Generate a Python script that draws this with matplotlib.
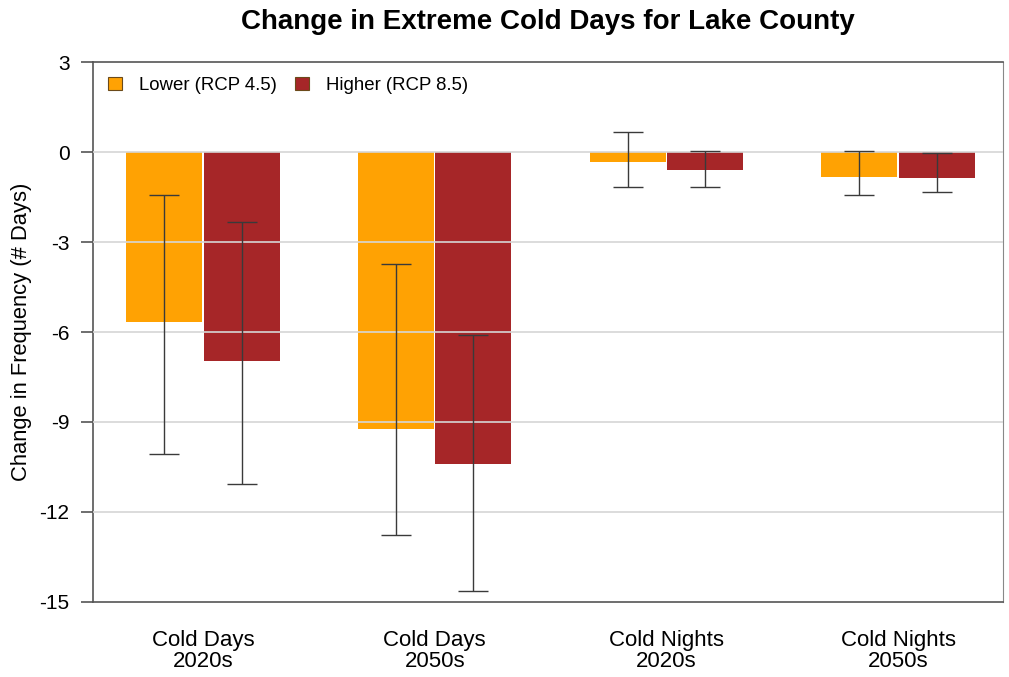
import matplotlib.pyplot as plt
import numpy as np

plt.rcParams['font.family'] = ['Liberation Sans', 'DejaVu Sans']

categories = ['Cold Days\n2020s', 'Cold Days\n2050s', 'Cold Nights\n2020s', 'Cold Nights\n2050s']
series_names = ['Lower (RCP 4.5)', 'Higher (RCP 8.5)']
lower_vals = [-5.67, -9.23, -0.33, -0.83]
lower_hi = [-1.43, -3.73, 0.67, 0.03]
lower_lo = [-10.07, -12.77, -1.17, -1.43]
higher_vals = [-6.97, -10.4, -0.6, -0.87]
higher_hi = [-2.33, -6.1, 0.03, -0.03]
higher_lo = [-11.07, -14.63, -1.17, -1.33]
yticks = [3, 0, -3, -6, -9, -12, -15]

colors = ['#FFA203', '#A62628']

fig = plt.figure(figsize=(10.09, 6.77), dpi=100, facecolor='white')
ax = fig.add_axes([0.0922, 0.1108, 0.902, 0.7976])

x = np.arange(len(categories))
w = 0.328
for i, (vals, hi, lo, name) in enumerate([(lower_vals, lower_hi, lower_lo, series_names[0]),
                                           (higher_vals, higher_hi, higher_lo, series_names[1])]):
    pos = x + (i - 0.5) * (w + 0.006)
    ax.bar(pos, vals, width=w, color=colors[i], label=name, zorder=2, linewidth=0)
    vals = np.array(vals)
    err = [vals - np.array(lo), np.array(hi) - vals]
    ax.errorbar(pos, vals, yerr=err, fmt='none', ecolor='#3a3a3a', elinewidth=1.0,
                capsize=11, capthick=1.0, zorder=4)

ax.set_xlim(-0.475, 3.453)
ax.set_ylim(-15, 3)
ax.set_yticks(yticks)
ax.set_yticklabels([str(t) for t in yticks], fontsize=15)
ax.set_xticks(x)
ax.set_xticklabels(categories, fontsize=16, linespacing=1.0)
ax.tick_params(axis='x', length=0, pad=20)
ax.tick_params(axis='y', length=9, width=1.2, color='#555555', pad=8)

for t in [0, -3, -6, -9, -12]:
    ax.axhline(t, color='#d6d6d6', linewidth=1.2, zorder=3)

for s in ax.spines.values():
    s.set_color('#555555')
    s.set_linewidth(1.2)
ax.spines['right'].set_color('#888888')
ax.spines['right'].set_linewidth(0.8)

ax.set_ylabel('Change in Frequency (# Days)', fontsize=15.8, labelpad=5)
ax.set_title('Change in Extreme Cold Days for Lake County', fontsize=20, fontweight='bold',
             pad=24)

leg = ax.legend(loc='upper left', frameon=False, ncol=2, fontsize=13.4,
                handlelength=0.75, handleheight=0.7, handletextpad=0.9,
                columnspacing=1.0, bbox_to_anchor=(0.0, 1.0), borderaxespad=0.4)
for h in leg.legend_handles:
    h.set_edgecolor('#6b4a1a')
    h.set_linewidth(0.8)

fig.savefig('out.png', dpi=100, facecolor='white')
